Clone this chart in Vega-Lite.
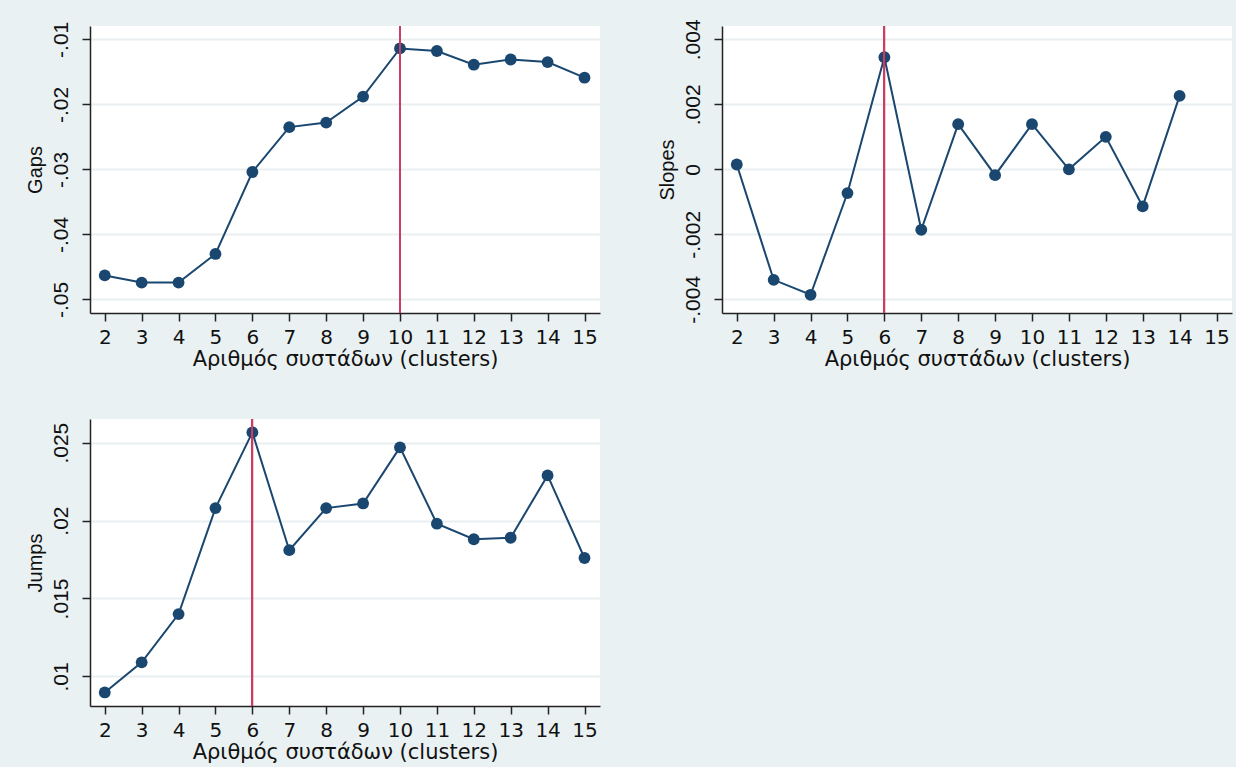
{
  "$schema": "https://vega.github.io/schema/vega-lite/v6.json",
  "background": "#eaf1f3",
  "padding": {"left": 25, "top": 18, "right": 4, "bottom": 20},
  "config": {
    "font": "Liberation Sans",
    "view": {"fill": "white", "stroke": null},
    "axis": {
      "labelFont": "Liberation Sans",
      "titleFont": "Liberation Sans",
      "labelFontSize": 21,
      "titleFontSize": 20,
      "titleFontWeight": "normal",
      "labelColor": "#111",
      "titleColor": "#111",
      "domainColor": "#222",
      "domainWidth": 1.5,
      "tickColor": "#222",
      "tickWidth": 1.5,
      "tickSize": 8,
      "gridColor": "#e9eff1",
      "gridWidth": 1.8
    },
    "axisX": {
      "labelFont": "DejaVu Sans",
      "titleFont": "DejaVu Sans",
      "labelFontSize": 20,
      "titleFontSize": 21,
      "labelPadding": 6,
      "titlePadding": 1,
      "grid": false
    },
    "axisY": {
      "labelAngle": 270,
      "labelAlign": "center",
      "labelBaseline": "bottom",
      "labelPadding": 11,
      "titlePadding": 5
    }
  },
  "data": {
    "values": [
      {"k": 2, "gaps": -0.0463, "slopes": 0.00015, "jumps": 0.00897},
      {"k": 3, "gaps": -0.0474, "slopes": -0.0034, "jumps": 0.0109},
      {"k": 4, "gaps": -0.0474, "slopes": -0.00386, "jumps": 0.0140},
      {"k": 5, "gaps": -0.0430, "slopes": -0.00073, "jumps": 0.0208},
      {"k": 6, "gaps": -0.0304, "slopes": 0.00345, "jumps": 0.02566},
      {"k": 7, "gaps": -0.0235, "slopes": -0.00186, "jumps": 0.0181},
      {"k": 8, "gaps": -0.0228, "slopes": 0.00139, "jumps": 0.0208},
      {"k": 9, "gaps": -0.0188, "slopes": -0.00018, "jumps": 0.0211},
      {"k": 10, "gaps": -0.0114, "slopes": 0.00139, "jumps": 0.0247},
      {"k": 11, "gaps": -0.0118, "slopes": 0.0, "jumps": 0.0198},
      {"k": 12, "gaps": -0.0139, "slopes": 0.0010, "jumps": 0.0188},
      {"k": 13, "gaps": -0.0131, "slopes": -0.00114, "jumps": 0.0189},
      {"k": 14, "gaps": -0.0135, "slopes": 0.00226, "jumps": 0.0229},
      {"k": 15, "gaps": -0.0159, "slopes": null, "jumps": 0.0176}
    ]
  },
  "columns": 2,
  "bounds": "flush",
  "spacing": {"column": 122, "row": 106},
  "concat": [
    {
      "width": 510,
      "height": 287,
      "encoding": {
        "x": {
          "field": "k", "type": "quantitative",
          "scale": {"domain": [1.6, 15.42], "nice": false, "zero": false},
          "axis": {"values": [2,3,4,5,6,7,8,9,10,11,12,13,14,15], "title": "Αριθμός συστάδων (clusters)"}
        },
        "y": {
          "field": "gaps", "type": "quantitative",
          "scale": {"domain": [-0.05208, -0.00795], "nice": false, "zero": false},
          "axis": {"values": [-0.05, -0.04, -0.03, -0.02, -0.01], "title": "Gaps",
            "labelExpr": "replace(toString(datum.value), '0.', '.')"}
        }
      },
      "layer": [
        {"mark": {"type": "line", "color": "#1a476f", "strokeWidth": 2}},
        {"mark": {"type": "point", "shape": "circle", "filled": true, "opacity": 1, "color": "#1a476f", "size": 140}},
        {"mark": {"type": "rule", "color": "#cc3d63", "strokeWidth": 1.3}, "encoding": {"x": {"datum": 10}, "y": {"value": 0}, "y2": {"value": 287}}}
      ]
    },
    {
      "width": 510,
      "height": 287,
      "encoding": {
        "x": {
          "field": "k", "type": "quantitative",
          "scale": {"domain": [1.6, 15.42], "nice": false, "zero": false},
          "axis": {"values": [2,3,4,5,6,7,8,9,10,11,12,13,14,15], "title": "Αριθμός συστάδων (clusters)"}
        },
        "y": {
          "field": "slopes", "type": "quantitative",
          "scale": {"domain": [-0.00442, 0.00441], "nice": false, "zero": false},
          "axis": {"values": [-0.004, -0.002, 0, 0.002, 0.004], "title": "Slopes",
            "labelExpr": "replace(toString(datum.value), '0.', '.')"}
        }
      },
      "layer": [
        {"mark": {"type": "line", "color": "#1a476f", "strokeWidth": 2}},
        {"mark": {"type": "point", "shape": "circle", "filled": true, "opacity": 1, "color": "#1a476f", "size": 140}},
        {"mark": {"type": "rule", "color": "#cc3d63", "strokeWidth": 1.3}, "encoding": {"x": {"datum": 6}, "y": {"value": 0}, "y2": {"value": 287}}}
      ]
    },
    {
      "width": 510,
      "height": 287,
      "encoding": {
        "x": {
          "field": "k", "type": "quantitative",
          "scale": {"domain": [1.6, 15.42], "nice": false, "zero": false},
          "axis": {"values": [2,3,4,5,6,7,8,9,10,11,12,13,14,15], "title": "Αριθμός συστάδων (clusters)"}
        },
        "y": {
          "field": "jumps", "type": "quantitative",
          "scale": {"domain": [0.0081, 0.02652], "nice": false, "zero": false},
          "axis": {"values": [0.01, 0.015, 0.02, 0.025], "title": "Jumps",
            "labelExpr": "replace(toString(datum.value), '0.', '.')"}
        }
      },
      "layer": [
        {"mark": {"type": "line", "color": "#1a476f", "strokeWidth": 2}},
        {"mark": {"type": "point", "shape": "circle", "filled": true, "opacity": 1, "color": "#1a476f", "size": 140}},
        {"mark": {"type": "rule", "color": "#cc3d63", "strokeWidth": 1.3}, "encoding": {"x": {"datum": 6}, "y": {"value": 0}, "y2": {"value": 287}}}
      ]
    }
  ]
}
